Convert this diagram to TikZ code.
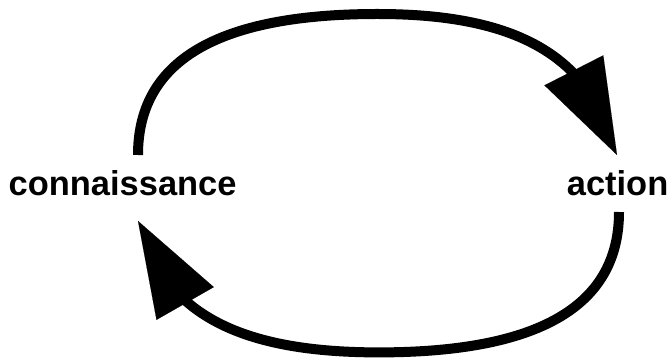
\documentclass[tikz,border=0pt]{standalone}
\usepackage{fontspec}
\setmainfont{Liberation Sans}
\usetikzlibrary{arrows.meta, bending, positioning}

\begin{document}
\begin{tikzpicture}[
  word/.style={font=\fontsize{49}{58}\selectfont\bfseries, inner sep=0pt, anchor=base},
  flow/.style={line width=0.5cm, black,
               -{Triangle[length=4.75cm, width=3.3cm, line width=0.1pt]}}
]
\useasboundingbox (0,0) rectangle (33.55,18.1);

% Labels
\node[word] (conn) at (6.13,8.30) {connaissance};
\node[word] (act) at (30.88,8.30) {action};

% Arc ends and turning points
\coordinate (conn-out) at (6.90,10.35);
\coordinate (act-in) at (30.85,10.35);
\coordinate (act-out) at (30.95,7.50);
\coordinate (conn-in) at (6.90,7.05);
\coordinate (top) at (18.88,17.40);
\coordinate (bottom) at (18.93,0.48);

% Arcs
\draw[flow] (conn-out) .. controls +(0,5) and +(-7.5,0) .. (top)
  .. controls +(7.5,0) and +(-1.2,4.6) .. (act-in);
\draw[flow] (act-out) .. controls +(0,-5) and +(7.5,0) .. (bottom)
  .. controls +(-7.5,0) and +(1.2,-4.3) .. (conn-in);

\end{tikzpicture}
\end{document}
